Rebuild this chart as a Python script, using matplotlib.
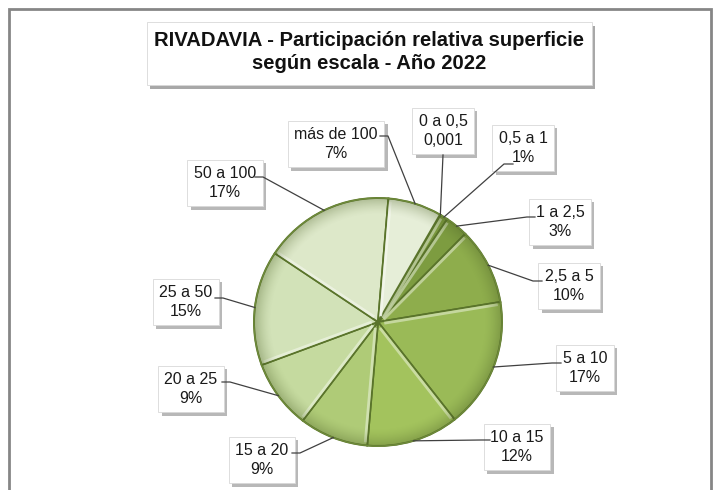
import numpy as np
import matplotlib
matplotlib.use("Agg")
import matplotlib.pyplot as plt
import matplotlib.patheffects as pe
import matplotlib.font_manager as fm
from matplotlib.colors import to_rgb
from matplotlib.patches import Rectangle, Circle, FancyBboxPatch

# data
categories = ['0 a 0,5', '0,5 a 1', '1 a 2,5', '2,5 a 5', '5 a 10', '10 a 15',
              '15 a 20', '20 a 25', '25 a 50', '50 a 100', 'más de 100']
values = [0.1, 1, 3, 10, 17, 12, 9, 9, 15, 17, 7]
value_labels = ['0,001', '1%', '3%', '10%', '17%', '12%', '9%', '9%', '15%', '17%', '7%']
colors = ['#77933C', '#7A983D', '#7D9C40', '#8EAD4C', '#9ABA57', '#A3C35D',
          '#AFCB77', '#C5DA9F', '#D2E2B8', '#DDE8C9', '#E6EED8']
title = 'RIVADAVIA - Participación relativa superficie\nsegún escala - Año 2022'

# layout in pixels, measured from the top-left corner
W, H = 718, 490
cx, cy, rad = 378, 322, 124
label_pos = [(443, 131), (523, 148), (560, 222), (569, 286), (585, 368), (517, 447),
             (262, 460), (191, 389), (186, 302), (225, 183), (336, 144)]
# where each leader line leaves the label (start, elbow)
leader_from = [((443, 155), (443, 155)), ((513, 164), (504, 164)), ((535, 217), (527, 217)),
               ((542, 281), (533, 281)), ((561, 363), (552, 363)), ((490, 440), (481, 440)),
               ((292, 453), (300, 453)), ((222, 382), (230, 382)), ((215, 298), (223, 298)),
               ((255, 177), (263, 177)), ((380, 136), (388, 136))]

names = {f.name for f in fm.fontManager.ttflist}
font = 'Liberation Sans Narrow' if 'Liberation Sans Narrow' in names else 'Liberation Sans'
plt.rcParams['font.family'] = [font, 'DejaVu Sans']

fig = plt.figure(figsize=(W / 100, H / 100), dpi=100)
ax = fig.add_axes([0, 0, 1, 1])


def py(y):
    return H - y


start = 60  # first slice begins 30 deg clockwise from 12 o'clock
wedges, _ = ax.pie(values, colors=colors, startangle=start, counterclock=False,
                   center=(cx, py(cy)), radius=rad,
                   wedgeprops=dict(edgecolor='#5A742B', linewidth=1.4))
ax.set_xlim(0, W)
ax.set_ylim(0, H)
ax.axis('off')

# light bevel line along the leading edge of every slice
total = sum(values)
cum = 0
for i, v in enumerate(values):
    a = np.deg2rad(start - 360 * cum / total)
    cum += v
    if v < 1:
        continue
    # shift a little into the slice (clockwise side)
    nx, ny = np.sin(a), -np.cos(a)
    off = 2.2
    light = tuple(min(1, c + 0.5 * (1 - c)) for c in to_rgb(colors[i]))
    ax.plot([cx + off * nx + 6 * np.cos(a), cx + off * nx + (rad - 3) * np.cos(a)],
            [py(cy) + off * ny + 6 * np.sin(a), py(cy) + off * ny + (rad - 3) * np.sin(a)],
            color=light, lw=2, alpha=0.85, solid_capstyle='butt', zorder=2)

# soft darker rim to mimic the bevel
n = 400
gx, gy = np.meshgrid(np.linspace(cx - rad, cx + rad, n), np.linspace(py(cy) - rad, py(cy) + rad, n))
rr = np.hypot(gx - cx, gy - py(cy)) / rad
shade = np.zeros((n, n, 4))
shade[..., 0], shade[..., 1], shade[..., 2] = 0.30, 0.38, 0.15
shade[..., 3] = np.clip((rr - 0.86) / 0.14, 0, 1) ** 1.5 * 0.35
im = ax.imshow(shade, extent=(cx - rad, cx + rad, py(cy) - rad, py(cy) + rad),
               origin='lower', zorder=3, interpolation='bilinear')
im.set_clip_path(Circle((cx, py(cy)), rad, transform=ax.transData))
ax.add_patch(Circle((cx, py(cy)), rad, fill=False, edgecolor='#6E8A3A', lw=1.0, zorder=4))

# labels with leader lines to the middle of each arc
cum = 0
for i, v in enumerate(values):
    mid = np.deg2rad(start - 360 * (cum + v / 2) / total)
    cum += v
    ex, ey = cx + rad * np.cos(mid), py(cy) + rad * np.sin(mid)
    (sx, sy), (kx, ky) = leader_from[i]
    ax.plot([sx, kx, ex], [py(sy), py(ky), ey], color='#404040', lw=0.9, zorder=8)
    lx, ly = label_pos[i]
    t = ax.text(lx, py(ly), categories[i] + '\n' + value_labels[i], ha='center', va='center',
                fontsize=11.5, linespacing=1.3, color='#1a1a1a', zorder=7,
                bbox=dict(boxstyle='square,pad=0.4', fc='white', ec='#d8d8d8', lw=0.6))
    t.get_bbox_patch().set_path_effects([pe.withSimplePatchShadow(offset=(2.5, -2.5),
                                                                  shadow_rgbFace='#7f7f7f', alpha=0.55)])

# title box
tb = FancyBboxPatch((147, py(85)), 445, 63, boxstyle='square,pad=0', fc='white',
                    ec='#d8d8d8', lw=0.6, zorder=6)
tb.set_path_effects([pe.withSimplePatchShadow(offset=(2.5, -3), shadow_rgbFace='#6f6f6f', alpha=0.6)])
ax.add_patch(tb)
tt = ax.text(369, py(52), title, ha='center', va='center', fontsize=13, fontweight='bold',
             linespacing=1.25, color='#111111', zorder=7)
fig.canvas.draw()
w = tt.get_window_extent().width
tt.set_fontsize(13 * 430 / w)

# outer chart frame
ax.add_patch(Rectangle((9, -20), 702, py(9) + 20, fill=False, edgecolor='#868686', lw=2, zorder=1))

fig.savefig('out.png', dpi=100)
